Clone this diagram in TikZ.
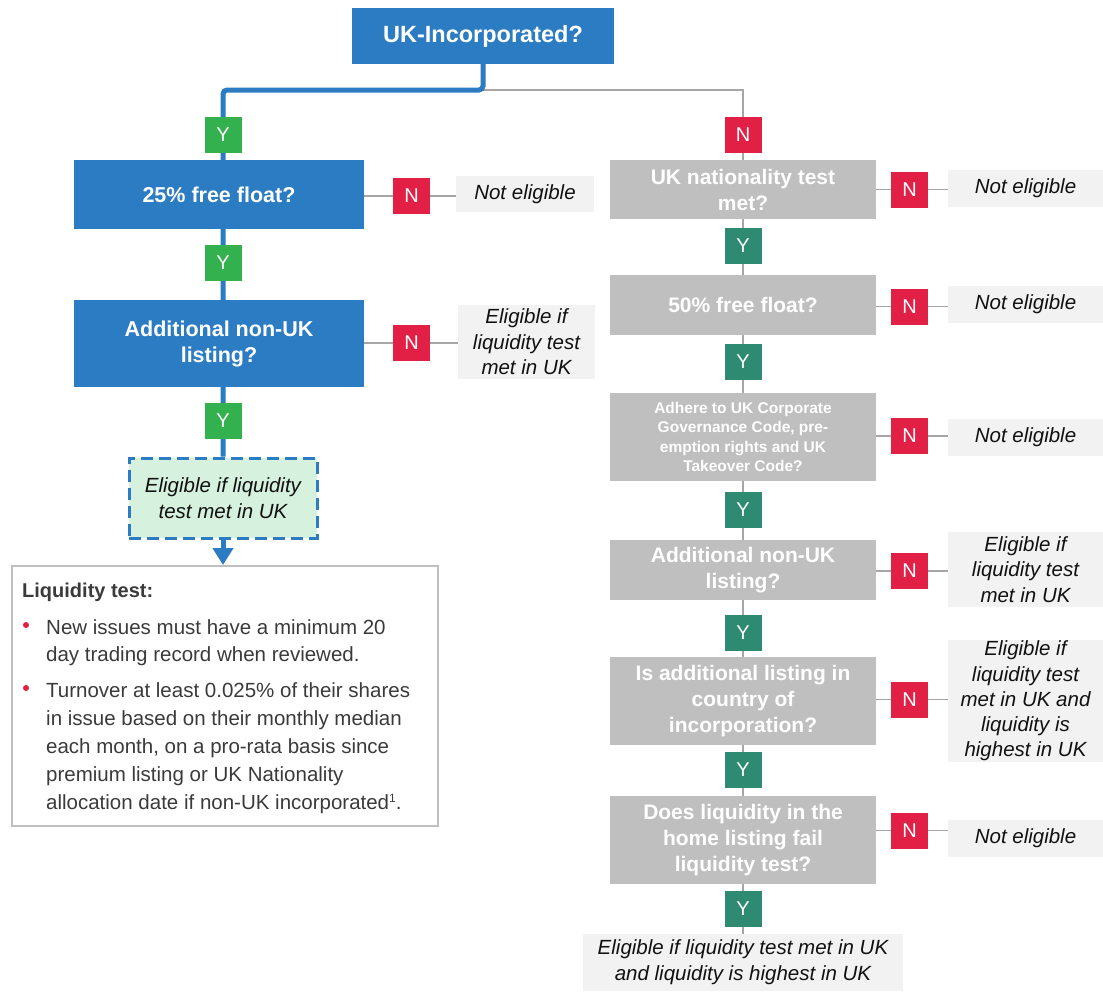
\documentclass[tikz,border=0pt]{standalone}
\usepackage{fontspec}
\setmainfont{Liberation Sans}
\usetikzlibrary{arrows.meta,backgrounds}
\definecolor{ukblue}{HTML}{2B7CC3}
\definecolor{ygreen}{HTML}{33B14F}
\definecolor{yteal}{HTML}{2E8B72}
\definecolor{nred}{HTML}{E22046}
\definecolor{boxgray}{HTML}{BFBFBF}
\definecolor{outgray}{HTML}{F2F2F2}
\definecolor{dashfill}{HTML}{D6F1DD}
\definecolor{linegray}{HTML}{A6A6A6}
\definecolor{txtblack}{HTML}{111111}
\definecolor{txtdark}{HTML}{3A3A3A}
\begin{document}
\begin{tikzpicture}[x=1pt,y=-1pt,
  wh/.style 2 args={minimum width=#1pt,minimum height=#2pt},
  lbox/.style={fill=ukblue,text=white,font=\bfseries\fontsize{21.5}{26}\selectfont,align=center,inner sep=0pt},
  gbox/.style={fill=boxgray,text=white,font=\bfseries\fontsize{21}{26}\selectfont,align=center,inner sep=0pt},
  obox/.style={fill=outgray,text=txtblack,font=\itshape\fontsize{20.5}{25.5}\selectfont,align=center,inner sep=0pt},
  badge/.style={minimum width=37pt,minimum height=36pt,inner sep=0pt,text=white,font=\fontsize{20}{24}\selectfont},
  yb/.style={badge,fill=ygreen},
  tb/.style={badge,fill=yteal},
  nb/.style={badge,fill=nred},
  gline/.style={draw=linegray,line width=1.3pt},
  bline/.style={draw=ukblue,line width=5pt},
  ltext/.style={anchor=base west,inner sep=0pt,text=txtdark,font=\fontsize{20.5}{27}\selectfont}
]
\useasboundingbox (0,0) rectangle (1103,991);

% top
\node[lbox,wh={262}{56},font=\bfseries\fontsize{23.5}{28}\selectfont] (UKI) at (483,36) {UK-Incorporated?};
\coordinate (split) at (483,90);

% left column
\node[yb] (Y1) at (223,134.5) {Y};
\node[lbox,wh={290}{69}] (FF25) at (219,194.5) {25\% free float?};
\node[nb] (N1) at (411.5,196) {N};
\node[obox,wh={138}{36}] (NE1) at (525,194) {Not eligible};
\node[yb] (Y2) at (223,263) {Y};
\node[lbox,wh={290}{87}] (AD1) at (219,343.5) {Additional non-UK\\listing?};
\node[nb] (N2) at (411.5,343) {N};
\node[obox,wh={137}{74}] (NE2) at (526.5,342) {Eligible if\\liquidity test\\met in UK};
\node[yb] (Y3) at (223,420.5) {Y};
\node[obox,wh={188}{80},fill=dashfill,draw=ukblue,line width=3pt,dash pattern=on 12pt off 6pt] (DL) at (223,498) {Eligible if liquidity\\test met in UK};
\node[draw=boxgray,line width=2pt,wh={426}{260}] (LT) at (225,696) {};

\node[ltext,font=\bfseries\fontsize{20}{27}\selectfont] (lt0) at (22,597) {Liquidity test:};
\node[ltext] (lt1) at (46,634) {New issues must have a minimum 20};
\node[ltext] (lt2) at (46,661.5) {day trading record when reviewed.};
\node[ltext] (lt3) at (46,697) {Turnover at least 0.025\% of their shares};
\node[ltext] (lt4) at (46,725) {in issue based on their monthly median};
\node[ltext] (lt5) at (46,753) {each month, on a pro-rata basis since};
\node[ltext] (lt6) at (46,781) {premium listing or UK Nationality};
\node[ltext] (lt7) at (46,809.5) {allocation date if non-UK incorporated\raisebox{7pt}{\fontsize{12}{12}\selectfont 1}.};
\fill[nred] (26,625) circle (3pt);
\fill[nred] (26,688) circle (3pt);

% right column
\node[nb] (RN0) at (743,134.5) {N};
\node[gbox,wh={266}{59}] (UN) at (743,189.5) {UK nationality test\\met?};
\node[nb] (RN1) at (909.5,189.5) {N};
\node[obox,wh={155}{37}] (RE1) at (1025.5,188.5) {Not eligible};
\node[tb] (RY1) at (743,245.5) {Y};
\node[gbox,wh={266}{60}] (FF50) at (743,305) {50\% free float?};
\node[nb] (RN2) at (909.5,306.5) {N};
\node[obox,wh={155}{37}] (RE2) at (1025.5,304.5) {Not eligible};
\node[tb] (RY2) at (743,362) {Y};
\node[gbox,wh={266}{88},font=\bfseries\fontsize{15.5}{19.5}\selectfont] (ADH) at (743,437) {Adhere to UK Corporate\\Governance Code, pre-\\emption rights and UK\\Takeover Code?};
\node[nb] (RN3) at (909.5,436) {N};
\node[obox,wh={155}{37}] (RE3) at (1025.5,437.5) {Not eligible};
\node[tb] (RY3) at (743,510) {Y};
\node[gbox,wh={266}{60}] (AD2) at (743,570) {Additional non-UK\\listing?};
\node[nb] (RN4) at (909.5,571) {N};
\node[obox,wh={155}{75}] (RE4) at (1025.5,569.5) {Eligible if\\liquidity test\\met in UK};
\node[tb] (RY4) at (743,632.5) {Y};
\node[gbox,wh={266}{88}] (ISA) at (743,701) {Is additional listing in\\country of\\incorporation?};
\node[nb] (RN5) at (909.5,699.5) {N};
\node[obox,wh={155}{122},font=\itshape\fontsize{20.5}{25.3}\selectfont] (RE5) at (1025.5,701) {Eligible if\\liquidity test\\met in UK and\\liquidity is\\highest in UK};
\node[tb] (RY5) at (743,770) {Y};
\node[gbox,wh={266}{88}] (DOES) at (743,840) {Does liquidity in the\\home listing fail\\liquidity test?};
\node[nb] (RN6) at (909.5,830.5) {N};
\node[obox,wh={155}{37}] (RE6) at (1025.5,838.5) {Not eligible};
\node[tb] (RY6) at (743,908.5) {Y};
\node[obox,wh={320}{57},font=\itshape\fontsize{20.5}{26}\selectfont] (FIN) at (743,962.5) {Eligible if liquidity test met in UK\\and liquidity is highest in UK};

\begin{scope}[on background layer]
  \draw[gline] (split) -| (FIN.north);
  \draw[bline,rounded corners=4pt] (UKI.south) -- (split) -| (DL.north);
  \draw[gline] (FF25.east |- N1.center) -- (NE1.west |- N1.center);
  \draw[gline] (AD1.east |- N2.center) -- (NE2.west |- N2.center);
  \draw[gline] (UN.east |- RN1.center) -- (RE1.west |- RN1.center);
  \draw[gline] (FF50.east |- RN2.center) -- (RE2.west |- RN2.center);
  \draw[gline] (ADH.east |- RN3.center) -- (RE3.west |- RN3.center);
  \draw[gline] (AD2.east |- RN4.center) -- (RE4.west |- RN4.center);
  \draw[gline] (ISA.east |- RN5.center) -- (RE5.west |- RN5.center);
  \draw[gline] (DOES.east |- RN6.center) -- (RE6.west |- RN6.center);
  \draw[bline,-{Triangle[width=20pt,length=17pt]}] (DL.south) -- (DL.south |- LT.north);
\end{scope}
\end{tikzpicture}
\end{document}
